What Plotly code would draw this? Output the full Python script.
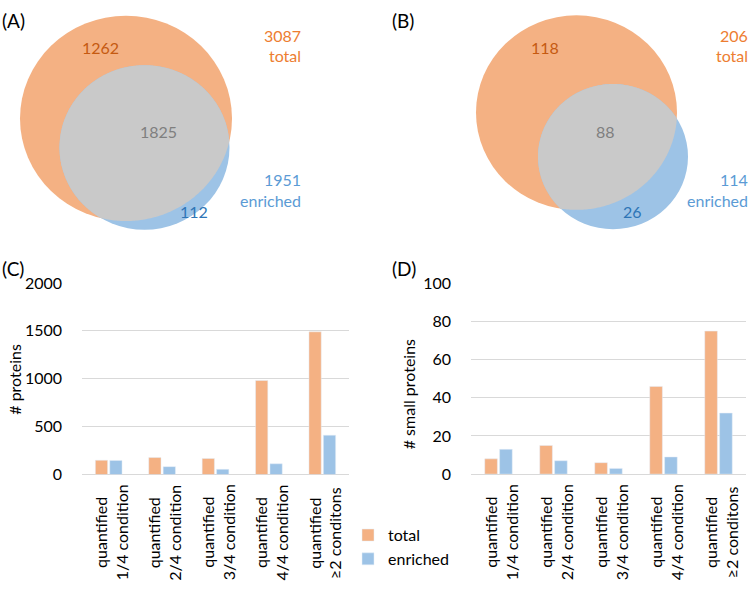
import numpy as np
import plotly.graph_objects as go

# ---------------- data ----------------
categories = ["quantified<br>1/4 condition", "quantified<br>2/4 condition",
              "quantified<br>3/4 condition", "quantified<br>4/4 condition",
              "quantified<br>≥2 conditons"]
proteins_total = [150, 178, 168, 982, 1490]
proteins_enriched = [148, 83, 55, 113, 411]
small_total = [8, 15, 6, 46, 75]
small_enriched = [13, 7, 3, 9, 32]

venn_A = {"only_total": 1262, "both": 1825, "only_enriched": 112, "total": 3087, "enriched": 1951}
venn_B = {"only_total": 118, "both": 88, "only_enriched": 26, "total": 206, "enriched": 114}

ORANGE = "#F4B183"
BLUE = "#9DC3E6"
GRAY = "#C9C9C9"
FONT = "Lato"
W, H = 750, 592


def px(x):
    return x / W


def py(y):
    return 1 - y / H


fig = go.Figure()

cat_idx = list(range(len(categories)))

# ---------------- bar charts ----------------
fig.add_trace(go.Bar(x=cat_idx, y=proteins_total, name="total", marker_color=ORANGE,
                     xaxis="x", yaxis="y", showlegend=True))
fig.add_trace(go.Bar(x=cat_idx, y=proteins_enriched, name="enriched", marker_color=BLUE,
                     xaxis="x", yaxis="y", showlegend=True))
fig.add_trace(go.Bar(x=cat_idx, y=small_total, name="total", marker_color=ORANGE,
                     xaxis="x2", yaxis="y2", showlegend=False))
fig.add_trace(go.Bar(x=cat_idx, y=small_enriched, name="enriched", marker_color=BLUE,
                     xaxis="x2", yaxis="y2", showlegend=False))

axis_common = dict(showgrid=False, zeroline=False, showline=False, showticklabels=False,
                   range=[-0.5, len(categories) - 0.5], fixedrange=True)
ycommon = dict(showgrid=True, gridcolor="#D9D9D9", gridwidth=1, zeroline=True,
               zerolinecolor="#D9D9D9", zerolinewidth=1, showline=False,
               tickfont=dict(family=FONT, size=16, color="#000000"), ticks="",
               ticklabelstandoff=19, fixedrange=True)

fig.update_layout(
    xaxis=dict(domain=[px(82), px(349)], anchor="y", **axis_common),
    yaxis=dict(domain=[py(480), py(282)], anchor="x", range=[0, 2000], dtick=500, **ycommon),
    xaxis2=dict(domain=[px(471), px(746)], anchor="y2", **axis_common),
    yaxis2=dict(domain=[py(479.5), py(282.5)], anchor="x2", range=[0, 100], dtick=20, **ycommon),
    barmode="group", bargap=0.46, bargroupgap=0.15,
)

# category labels (rotated, centered lines)
for xa in ("x", "x2"):
    for i, c in enumerate(categories):
        fig.add_annotation(x=i, y=py(540), xref=xa, yref="paper", text=c, textangle=-90,
                           showarrow=False, xshift=2, align="center",
                           xanchor="center", yanchor="middle",
                           font=dict(family=FONT, size=16, color="#000000"))

# y-axis titles
fig.add_annotation(x=px(15), y=py(382), xref="paper", yref="paper", text="# proteins",
                   textangle=-90, showarrow=False, xanchor="center", yanchor="middle",
                   font=dict(family=FONT, size=16, color="#000000"))
fig.add_annotation(x=px(408), y=py(397), xref="paper", yref="paper", text="# small proteins",
                   textangle=-90, showarrow=False, xanchor="center", yanchor="middle",
                   font=dict(family=FONT, size=16, color="#000000"))

# ---------------- Venn diagrams ----------------
def circle_shape(cx, cy, r, color):
    return dict(type="circle", xref="paper", yref="paper",
                x0=px(cx - r), x1=px(cx + r), y0=py(cy + r), y1=py(cy - r),
                fillcolor=color, line=dict(width=0), layer="above")


def lens_path(c1, r1, c2, r2, n=400):
    t = np.linspace(0, 2 * np.pi, n, endpoint=False)
    pts = []
    for (cx, cy, r), (ox, oy, orr) in (((c1[0], c1[1], r1), (c2[0], c2[1], r2)),
                                       ((c2[0], c2[1], r2), (c1[0], c1[1], r1))):
        xs = cx + r * np.cos(t)
        ys = cy + r * np.sin(t)
        inside = (xs - ox) ** 2 + (ys - oy) ** 2 <= orr ** 2
        pts.extend(zip(xs[inside], ys[inside]))
    pts = np.array(pts)
    cen = pts.mean(axis=0)
    ang = np.arctan2(pts[:, 1] - cen[1], pts[:, 0] - cen[0])
    pts = pts[np.argsort(ang)]
    d = "M " + " L ".join(f"{px(x):.5f},{py(y):.5f}" for x, y in pts) + " Z"
    return dict(type="path", xref="paper", yref="paper", path=d,
                fillcolor=GRAY, line=dict(width=0), layer="above")


shapes = []
# Venn A geometry (pixels)
A_o, A_or = (126, 112), 106
A_b, A_br = (144.5, 142), 85
shapes += [circle_shape(*A_o, A_or, ORANGE), circle_shape(*A_b, A_br, BLUE),
           lens_path(A_o, A_or, A_b, A_br)]
# Venn B geometry
B_o, B_or = (576.5, 106), 100.5
B_b, B_br = (613, 151.5), 75
shapes += [circle_shape(*B_o, B_or, ORANGE), circle_shape(*B_b, B_br, BLUE),
           lens_path(B_o, B_or, B_b, B_br)]
fig.update_layout(shapes=shapes)


def txt(x, y, s, color, size=16, xanchor="center"):
    fig.add_annotation(x=px(x), y=py(y), xref="paper", yref="paper", text=s, showarrow=False,
                       xanchor=xanchor, yanchor="middle",
                       font=dict(family=FONT, size=size, color=color))


# Venn A labels
txt(100, 39, str(venn_A["only_total"]), "#C55A11")
txt(158, 126, str(venn_A["both"]), "#7F7F7F")
txt(194, 208, str(venn_A["only_enriched"]), "#2E75B6")
txt(303, 26, str(venn_A["total"]), "#ED7D31", xanchor="right")
txt(303, 47, "total", "#ED7D31", xanchor="right")
txt(303, 175, str(venn_A["enriched"]), "#5B9BD5", xanchor="right")
txt(303, 197, "enriched", "#5B9BD5", xanchor="right")
# Venn B labels
txt(545, 39, str(venn_B["only_total"]), "#C55A11")
txt(605, 126, str(venn_B["both"]), "#7F7F7F")
txt(632, 208, str(venn_B["only_enriched"]), "#2E75B6")
txt(750, 26, str(venn_B["total"]), "#ED7D31", xanchor="right")
txt(750, 47, "total", "#ED7D31", xanchor="right")
txt(750, 175, str(venn_B["enriched"]), "#5B9BD5", xanchor="right")
txt(750, 197, "enriched", "#5B9BD5", xanchor="right")

# panel labels
txt(0, 11, "(A)", "#000000", size=19, xanchor="left")
txt(390, 11, "(B)", "#000000", size=19, xanchor="left")
txt(0, 267, "(C)", "#000000", size=19, xanchor="left")
txt(390, 267, "(D)", "#000000", size=19, xanchor="left")

fig.update_layout(
    width=W, height=H, margin=dict(l=0, r=0, t=0, b=0),
    paper_bgcolor="white", plot_bgcolor="white",
    font=dict(family=FONT, size=16, color="#000000"),
    legend=dict(x=px(348), y=py(525), xanchor="left", yanchor="top",
                font=dict(family=FONT, size=16, color="#000000"),
                bgcolor="rgba(0,0,0,0)", itemwidth=30, tracegroupgap=0),
)

fig.write_html("out.html")
